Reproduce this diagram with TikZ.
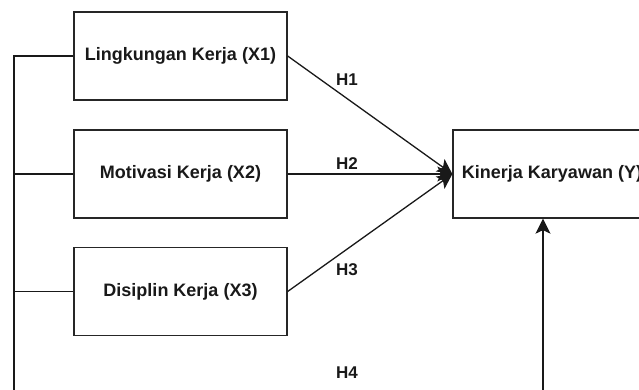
\documentclass[tikz,border=0pt]{standalone}
\usepackage{fontspec}
\setmainfont{Liberation Sans}
\usetikzlibrary{arrows.meta}
\begin{document}
\begin{tikzpicture}[x=1pt,y=-1pt,
  box/.style={draw=black!85,line width=1.3pt,minimum width=213pt,minimum height=88pt,inner sep=0pt,font=\bfseries\fontsize{18}{20}\selectfont,text=black!90},
  conn/.style={line width=1.3pt,draw=black!90},
  arr/.style={conn,-{Stealth[length=15pt,width=15pt,inset=3.5pt]}},
  hlab/.style={font=\bfseries\fontsize{17}{19}\selectfont,text=black!90,inner sep=0pt}]
\useasboundingbox (0,0) rectangle (639,389);
\clip (0,0) rectangle (639,389);
\fill[white] (0,0) rectangle (639,389);
\node[box] (x1) at (180.5,56) {Lingkungan Kerja (X1)};
\node[box] (x2) at (180.5,174) {Motivasi Kerja (X2)};
\node[box] (x3) at (180.5,291.5) {Disiplin Kerja (X3)};
\node[box,minimum width=198pt] (y) at (552,174) {Kinerja Karyawan (Y)};
\coordinate (bl) at (14,395);
\coordinate (br) at (543,395);
\draw[arr] (x1.east) -- (y.west);
\draw[arr] (x2.east) -- (y.west);
\draw[arr] (x3.east) -- (y.west);
\draw[conn] (x1.west) -| (bl);
\draw[conn] (x2.west) -- (x2.west -| bl);
\draw[conn] (x3.west) -- (x3.west -| bl);
\draw[arr] (br) -- (br |- y.south);
\node[hlab] (h1) at (347,80) {H1};
\node[hlab] (h2) at (347,164) {H2};
\node[hlab] (h3) at (347,270) {H3};
\node[hlab] (h4) at (347,373) {H4};
\end{tikzpicture}
\end{document}
